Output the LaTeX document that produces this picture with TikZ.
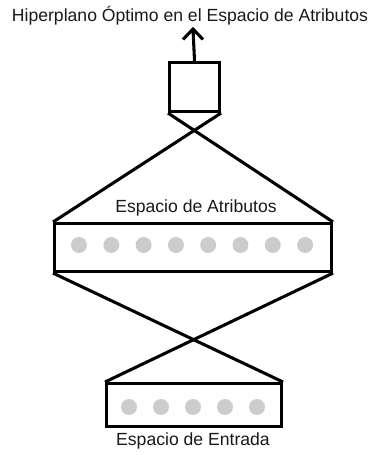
\documentclass[tikz,border=0pt]{standalone}
\usepackage{fontspec}
\setmainfont{Liberation Sans}
\usetikzlibrary{arrows.meta}
\begin{document}
\begin{tikzpicture}[x=0.75pt,y=-0.75pt,
  boxst/.style={draw=black,line width=2.3pt,inner sep=0pt,anchor=north west},
  dotst/.style={circle,fill=black!20,draw=none,minimum size=12pt,inner sep=0pt},
  linest/.style={line width=2.3pt,line join=miter},
  lbl/.style={font=\fontsize{13.2pt}{15pt}\selectfont,text=black!90,inner sep=0pt}]
\useasboundingbox (0,0) rectangle (369,455);
\node[lbl] (title) at (190,16) {Hiperplano Óptimo en el Espacio de Atributos};
% top box
\node[boxst,minimum width=37.5pt,minimum height=36.75pt] (top) at (168,61) {};
\coordinate (arrtip) at (193,29);
\coordinate (barbl) at (183,39.5);
\coordinate (barbr) at (203,39.5);
\draw[linest] (top.north) -- (arrtip);
\draw[linest,line join=miter] (barbl) -- (arrtip) -- (barbr);
% middle box
\node[boxst,minimum width=207.75pt,minimum height=36pt] (mid) at (53,222) {};
\node[lbl] (midlbl) at (196,208) {Espacio de Atributos};
\foreach \i in {0,...,7}{
  \node[dotst] (m\i) at ({79+\i*32.3},245) {};
}
% bottom box
\node[boxst,minimum width=131.25pt,minimum height=32.25pt] (bot) at (105,382) {};
\node[lbl] (botlbl) at (193,441) {Espacio de Entrada};
\foreach \i in {0,...,4}{
  \node[dotst] (b\i) at ({129+\i*32},407) {};
}
% connectors
\draw[linest] (top.south west) -- (mid.north east);
\draw[linest] (top.south east) -- (mid.north west);
\draw[linest] (mid.south west) -- (bot.north east);
\draw[linest] (mid.south east) -- (bot.north west);
\end{tikzpicture}
\end{document}
